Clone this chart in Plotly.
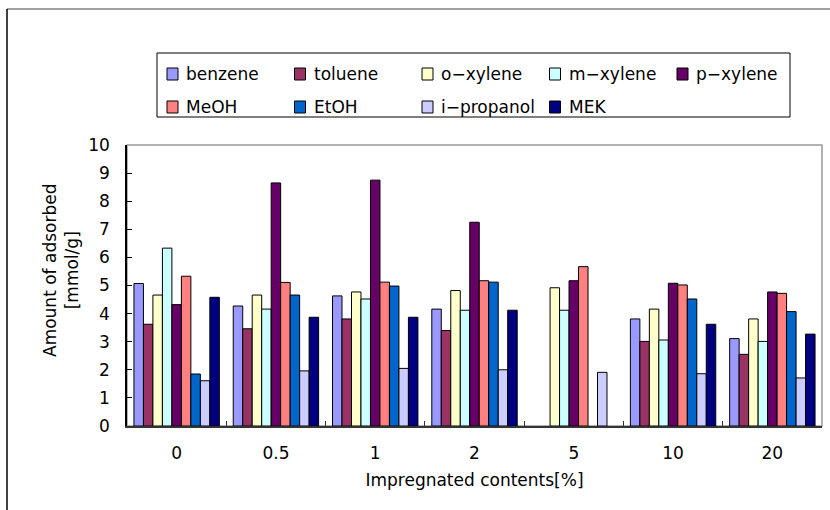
import plotly.graph_objects as go

# Impregnation levels (category axis) and adsorbate series
contents = ["0", "0.5", "1", "2", "5", "10", "20"]

benzene    = [5.07, 4.27, 4.63, 4.16, None, 3.81, 3.11]
toluene    = [3.62, 3.46, 3.81, 3.40, None, 3.01, 2.55]
o_xylene   = [4.66, 4.66, 4.77, 4.82, 4.92, 4.16, 3.81]
m_xylene   = [6.33, 4.16, 4.52, 4.12, 4.12, 3.06, 3.01]
p_xylene   = [4.32, 8.65, 8.75, 7.25, 5.17, 5.08, 4.77]
meoh       = [5.33, 5.11, 5.12, 5.17, 5.67, 5.02, 4.72]
etoh       = [1.85, 4.66, 4.98, 5.12, None, 4.52, 4.07]
i_propanol = [1.61, 1.96, 2.05, 2.00, 1.91, 1.86, 1.71]
mek        = [4.58, 3.87, 3.87, 4.12, None, 3.62, 3.27]

names = ["benzene", "toluene", "o\u2212xylene", "m\u2212xylene", "p\u2212xylene",
         "MeOH", "EtOH", "i\u2212propanol", "MEK"]
series = [benzene, toluene, o_xylene, m_xylene, p_xylene, meoh, etoh, i_propanol, mek]
colors = ["#9999FF", "#993366", "#FFFFCC", "#CCFFFF", "#660066",
          "#FF8080", "#0066CC", "#CCCCFF", "#000080"]

FONT = "DejaVu Sans, Verdana, sans-serif"
FS = 17
W, H = 830, 510
# plot area in pixels
L, R, T, B = 127, 822, 145, 426


def px(x):
    """pixel x -> paper x"""
    return (x - L) / (R - L)


def py(y):
    """pixel y -> paper y"""
    return (B - y) / (B - T)


fig = go.Figure()
for name, vals, col in zip(names, series, colors):
    fig.add_trace(go.Bar(
        x=contents, y=vals, name=name,
        marker=dict(color=col, line=dict(color="#000000", width=1)),
        showlegend=False,
    ))

# Legend drawn as a boxed grid: 5 entries on the first row, 4 on the second
shapes = []
annotations = []
col_x0, col_dx = 167, 127.5
row_y = [74, 107]
for i, (name, col) in enumerate(zip(names, colors)):
    r, c = divmod(i, 5)
    x0 = col_x0 + c * col_dx
    yc = row_y[r]
    shapes.append(dict(type="rect", xref="paper", yref="paper",
                       x0=px(x0), x1=px(x0 + 11),
                       y0=py(yc + 6), y1=py(yc - 6),
                       fillcolor=col, line=dict(color="#000000", width=1)))
    annotations.append(dict(xref="paper", yref="paper",
                            x=px(x0 + 17), y=py(yc),
                            xanchor="left", yanchor="middle", showarrow=False,
                            text=name, font=dict(family=FONT, size=FS, color="#000000")))

# legend box
shapes.append(dict(type="rect", xref="paper", yref="paper",
                   x0=px(157), x1=px(790), y0=py(117), y1=py(53),
                   line=dict(color="#000000", width=1), fillcolor="rgba(0,0,0,0)"))
# outer chart frame (top and left edges)
shapes.append(dict(type="line", xref="paper", yref="paper",
                   x0=px(7), x1=px(W + 5), y0=py(9), y1=py(9),
                   line=dict(color="#808080", width=1.5)))
shapes.append(dict(type="line", xref="paper", yref="paper",
                   x0=px(7), x1=px(7), y0=py(H + 5), y1=py(9),
                   line=dict(color="#000000", width=1.5)))
# plot-area border (top and right in gray)
shapes.append(dict(type="rect", xref="paper", yref="paper",
                   x0=0, x1=1, y0=0, y1=1,
                   line=dict(color="#999999", width=1.5), fillcolor="rgba(0,0,0,0)",
                   layer="below"))

# y-axis title, two lines
annotations.append(dict(xref="paper", yref="paper", x=px(61), y=py(270),
                        xanchor="center", yanchor="middle", showarrow=False, textangle=-90,
                        text="Amount of adsorbed<br>[mmol/g]",
                        font=dict(family=FONT, size=FS, color="#000000")))

fig.update_layout(
    width=W, height=H,
    margin=dict(l=L, r=W - R, t=T, b=H - B),
    paper_bgcolor="white", plot_bgcolor="white",
    barmode="group", bargap=0.14, bargroupgap=0,
    font=dict(family=FONT, size=FS, color="#000000"),
    shapes=shapes, annotations=annotations,
    xaxis=dict(
        type="category", showgrid=False, showline=True, linecolor="#333333", linewidth=1.5,
        ticks="inside", tickson="boundaries", ticklen=5, tickcolor="#333333",
        tickfont=dict(family=FONT, size=FS), ticklabelstandoff=11,
        title=dict(text="Impregnated contents[%]", font=dict(family=FONT, size=FS), standoff=12),
    ),
    yaxis=dict(
        range=[0, 10], dtick=1, showgrid=False, zeroline=False,
        showline=True, linecolor="#000000", linewidth=1.5,
        ticks="inside", ticklen=5, tickcolor="#000000",
        tickfont=dict(family=FONT, size=FS), ticklabelstandoff=12,
    ),
)

fig.write_html("out.html")
